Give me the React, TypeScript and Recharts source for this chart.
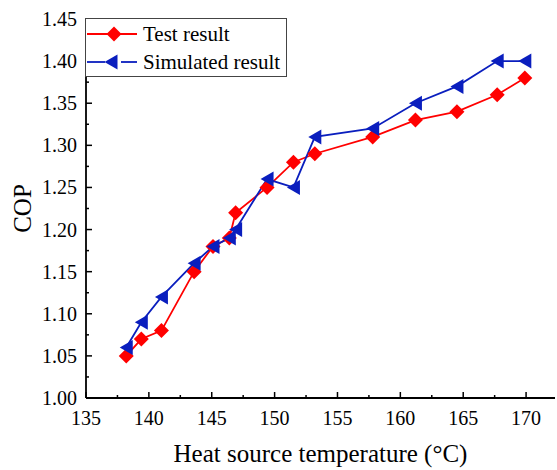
import React from 'react';
import { LineChart, Line, XAxis, YAxis, Legend } from 'recharts';

// heat source temperature (°C), shared by both series
const temperatures = [138.2, 139.4, 141.0, 143.6, 145.1, 146.4, 146.9, 149.4, 151.5, 153.2, 157.8, 161.2, 164.5, 167.7, 169.9];
const testCop = [1.05, 1.07, 1.08, 1.15, 1.18, 1.19, 1.22, 1.25, 1.28, 1.29, 1.31, 1.33, 1.34, 1.36, 1.38];
const simulatedCop = [1.06, 1.09, 1.12, 1.16, 1.18, 1.19, 1.2, 1.26, 1.25, 1.31, 1.32, 1.35, 1.37, 1.4, 1.4];

const xMajorTicks = [135, 140, 145, 150, 155, 160, 165, 170];
const xMinorTicks = [137.5, 142.5, 147.5, 152.5, 157.5, 162.5, 167.5];
const yMajorTicks = [1.0, 1.05, 1.1, 1.15, 1.2, 1.25, 1.3, 1.35, 1.4, 1.45];
const yMinorTicks = [1.025, 1.075, 1.125, 1.175, 1.225, 1.275, 1.325, 1.375, 1.425];

const testData = temperatures.map((t, i) => ({ t, cop: testCop[i] }));
const simulatedData = temperatures.map((t, i) => ({ t, cop: simulatedCop[i] }));

const FONT = "'Liberation Serif', 'Times New Roman', serif";
const RED = '#ff0000';
const BLUE = '#0a1ebe';
const X_DOMAIN = [135, 172.3];
const Y_DOMAIN = [1.0, 1.45];

const textStyle: React.CSSProperties = { fontFamily: FONT };

const diamond = (cx: number, cy: number, r = 7.5) =>
  `${cx},${cy - r} ${cx + r},${cy} ${cx},${cy + r} ${cx - r},${cy}`;
const leftTriangle = (cx: number, cy: number) =>
  `${cx - 6.5},${cy} ${cx + 6.5},${cy - 7.5} ${cx + 6.5},${cy + 7.5}`;

const DiamondDot = ({ cx, cy, index }: any) => (
  <polygon key={`d-${index}`} points={diamond(cx, cy)} fill={RED} />
);
const TriangleDot = ({ cx, cy, index }: any) => (
  <polygon key={`t-${index}`} points={leftTriangle(cx, cy)} fill={BLUE} />
);

const tickLen = (major: boolean) => (major ? 6 : 3);

const BottomTick = ({ x, y, payload }: any) => {
  const major = xMajorTicks.includes(payload.value);
  return (
    <g>
      <line x1={x} y1={y} x2={x} y2={y - tickLen(major)} stroke="#000" strokeWidth={1.5} />
      {major && (
        <text x={x} y={y + 27} textAnchor="middle" style={textStyle} fontSize={20} fill="#000">
          {payload.value}
        </text>
      )}
    </g>
  );
};

const TopTick = ({ x, y, payload }: any) => {
  const major = xMajorTicks.includes(payload.value);
  return <line x1={x} y1={y} x2={x} y2={y + tickLen(major)} stroke="#000" strokeWidth={1.5} />;
};

const LeftTick = ({ x, y, payload }: any) => {
  const major = yMajorTicks.includes(payload.value);
  return (
    <g>
      <line x1={x} y1={y} x2={x + tickLen(major)} y2={y} stroke="#000" strokeWidth={1.5} />
      {major && (
        <text x={x - 9} y={y + 7} textAnchor="end" style={textStyle} fontSize={20} fill="#000">
          {payload.value.toFixed(2)}
        </text>
      )}
    </g>
  );
};

const RightTick = ({ x, y, payload }: any) => {
  const major = yMajorTicks.includes(payload.value);
  return <line x1={x} y1={y} x2={x - tickLen(major)} y2={y} stroke="#000" strokeWidth={1.5} />;
};

const XTitle = ({ viewBox }: any) => (
  <text
    x={viewBox.x + viewBox.width / 2}
    y={viewBox.y + 64}
    textAnchor="middle"
    style={textStyle}
    fontSize={25}
    fill="#000"
  >
    Heat source temperature (°C)
  </text>
);

const YTitle = ({ viewBox }: any) => {
  const cx = viewBox.x + 31;
  const cy = viewBox.y + viewBox.height / 2;
  return (
    <text
      x={cx}
      y={cy}
      transform={`rotate(-90, ${cx}, ${cy})`}
      textAnchor="middle"
      style={textStyle}
      fontSize={25}
      fill="#000"
    >
      COP
    </text>
  );
};

// legend box drawn like the Origin one: sample line with the symbol in the middle
const LegendBox = () => (
  <svg width={202} height={59} style={{ display: 'block' }}>
    <rect x={0.5} y={0.5} width={201} height={58} fill="#fff" stroke="#444" strokeWidth={1} />
    <line x1={2} y1={16} x2={52} y2={16} stroke={RED} strokeWidth={1.8} />
    <polygon points={diamond(29, 16)} fill={RED} />
    <text x={58} y={23} style={textStyle} fontSize={21} fill="#000">Test result</text>
    <line x1={2} y1={44} x2={20} y2={44} stroke={BLUE} strokeWidth={1.8} />
    <line x1={36} y1={44} x2={52} y2={44} stroke={BLUE} strokeWidth={1.8} />
    <polygon points={leftTriangle(26, 44)} fill={BLUE} />
    <text x={58} y={51} style={textStyle} fontSize={21} fill="#000">Simulated result</text>
  </svg>
);

const App: React.FC = () => {
  return (
    <div style={{ position: 'absolute', left: 0, top: 0, width: 557, height: 470, background: '#fff', fontFamily: FONT }}>
      <LineChart width={557} height={470} margin={{ top: 19, right: 2, bottom: 0, left: 0 }}>
        <XAxis
          dataKey="t"
          type="number"
          domain={X_DOMAIN}
          allowDataOverflow
          ticks={[...xMajorTicks, ...xMinorTicks]}
          interval={0}
          tickSize={0}
          tickMargin={0}
          tickLine={false}
          tick={<BottomTick />}
          height={72}
          axisLine={{ stroke: '#000', strokeWidth: 1.8 }}
          label={{ content: <XTitle /> }}
        />
        <XAxis
          xAxisId="top"
          orientation="top"
          dataKey="t"
          type="number"
          domain={X_DOMAIN}
          allowDataOverflow
          ticks={[...xMajorTicks, ...xMinorTicks]}
          interval={0}
          tickSize={0}
          tickMargin={0}
          tickLine={false}
          tick={<TopTick />}
          height={0}
          axisLine={{ stroke: '#000', strokeWidth: 1.8 }}
        />
        <YAxis
          type="number"
          domain={Y_DOMAIN}
          allowDataOverflow
          ticks={[...yMajorTicks, ...yMinorTicks]}
          interval={0}
          tickSize={0}
          tickMargin={0}
          tickLine={false}
          tick={<LeftTick />}
          width={86}
          axisLine={{ stroke: '#000', strokeWidth: 1.8 }}
          label={{ content: <YTitle /> }}
        />
        <YAxis
          yAxisId="right"
          orientation="right"
          type="number"
          domain={Y_DOMAIN}
          allowDataOverflow
          ticks={[...yMajorTicks, ...yMinorTicks]}
          interval={0}
          tickSize={0}
          tickMargin={0}
          tickLine={false}
          tick={<RightTick />}
          width={0}
          axisLine={{ stroke: '#000', strokeWidth: 1.8 }}
        />
        <Line
          data={testData}
          dataKey="cop"
          name="Test result"
          stroke={RED}
          strokeWidth={1.8}
          dot={<DiamondDot />}
          activeDot={false}
          isAnimationActive={false}
        />
        <Line
          data={simulatedData}
          dataKey="cop"
          name="Simulated result"
          stroke={BLUE}
          strokeWidth={1.8}
          dot={<TriangleDot />}
          activeDot={false}
          isAnimationActive={false}
        />
        <Legend
          layout="horizontal"
          verticalAlign="middle"
          align="center"
          content={<LegendBox />}
          wrapperStyle={{ left: 85, top: 18, width: 202, height: 59 }}
        />
      </LineChart>
    </div>
  );
};

export default App;
